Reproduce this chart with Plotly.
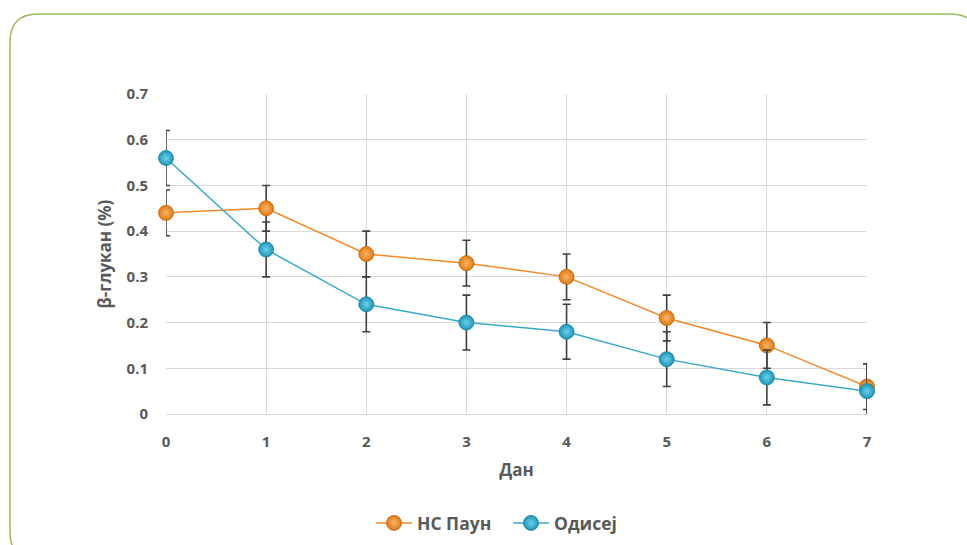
import plotly.graph_objects as go

days = [0, 1, 2, 3, 4, 5, 6, 7]
ns_paun = [0.44, 0.45, 0.35, 0.33, 0.30, 0.21, 0.15, 0.06]
ns_paun_err = [0.05, 0.05, 0.05, 0.05, 0.05, 0.05, 0.05, 0.05]
odisej = [0.56, 0.36, 0.24, 0.20, 0.18, 0.12, 0.08, 0.05]
odisej_err = [0.06, 0.06, 0.06, 0.06, 0.06, 0.06, 0.06, 0.06]
y_ticks = [0, 0.1, 0.2, 0.3, 0.4, 0.5, 0.6, 0.7]

W, H = 967, 545
L, R, T, B = 166, 100, 94, 131
pw, ph = W - L - R, H - T - B

def px(x):
    return (x - L) / pw

def py(y):
    return (H - B - y) / ph

FONT = "Open Sans"
GRAY = "#595959"

fig = go.Figure()
fig.add_trace(go.Scatter(
    x=days, y=ns_paun, name="НС Паун", mode="lines+markers", cliponaxis=False,
    line=dict(color="#F28A2A", width=1.5),
    marker=dict(size=15, color="#E07A12", line=dict(color="#C0650E", width=0.8),
                gradient=dict(type="radial", color="#FBB46A")),
    error_y=dict(type="data", array=ns_paun_err, color="#404040", thickness=1.6, width=4),
))
fig.add_trace(go.Scatter(
    x=days, y=odisej, name="Одисеј", mode="lines+markers", cliponaxis=False,
    line=dict(color="#3AAAC8", width=1.5),
    marker=dict(size=15, color="#1E95B8", line=dict(color="#17809E", width=0.8),
                gradient=dict(type="radial", color="#6FD0EA")),
    error_y=dict(type="data", array=odisej_err, color="#404040", thickness=1.6, width=4),
))

# rounded green frame
x0, x1 = px(10), px(978)
y0, y1 = py(14), py(560)
rx, ry = 28 / pw, 28 / ph
path = (f"M {x0+rx},{y0} L {x1-rx},{y0} Q {x1},{y0} {x1},{y0-ry} "
        f"L {x1},{y1+ry} Q {x1},{y1} {x1-rx},{y1} L {x0+rx},{y1} "
        f"Q {x0},{y1} {x0},{y1+ry} L {x0},{y0-ry} Q {x0},{y0} {x0+rx},{y0} Z")
fig.add_shape(type="path", path=path, xref="paper", yref="paper",
              line=dict(color="#9BBB59", width=1.5), layer="below")

axis_font = dict(family=FONT, size=15, color=GRAY, weight="bold")
title_font = dict(family=FONT, size=17, color=GRAY, weight="bold")
fig.update_layout(
    width=W, height=H,
    margin=dict(l=L, r=R, t=T, b=B, autoexpand=False),
    paper_bgcolor="white", plot_bgcolor="white",
    font=dict(family=FONT, color=GRAY),
    showlegend=True,
    legend=dict(orientation="h", x=px(371), xanchor="left", y=py(523), yanchor="middle",
                font=dict(family=FONT, size=17.5, color=GRAY, weight="bold"),
                entrywidth=86, itemwidth=36, tracegroupgap=0),
    xaxis=dict(range=[0, 7], tickvals=days, ticktext=[str(d) for d in days],
               showgrid=True, gridcolor="#D9D9D9", gridwidth=1, automargin=False,
               showline=True, linecolor="#D9D9D9", mirror=False, zeroline=False,
               tickfont=axis_font, ticks="", ticklabelstandoff=14,
               title=dict(text="Дан", font=title_font, standoff=14)),
    yaxis=dict(range=[0, 0.7], tickvals=y_ticks, ticktext=["0"] + [f"{v:.1f}" for v in y_ticks[1:]],
               showgrid=True, gridcolor="#D9D9D9", gridwidth=1, automargin=False,
               showline=False, zeroline=False, ticks="", ticklabelstandoff=17,
               tickfont=axis_font,
               title=dict(text="β-глукан (%)", font=title_font, standoff=10)),
)

fig.write_html("out.html")
